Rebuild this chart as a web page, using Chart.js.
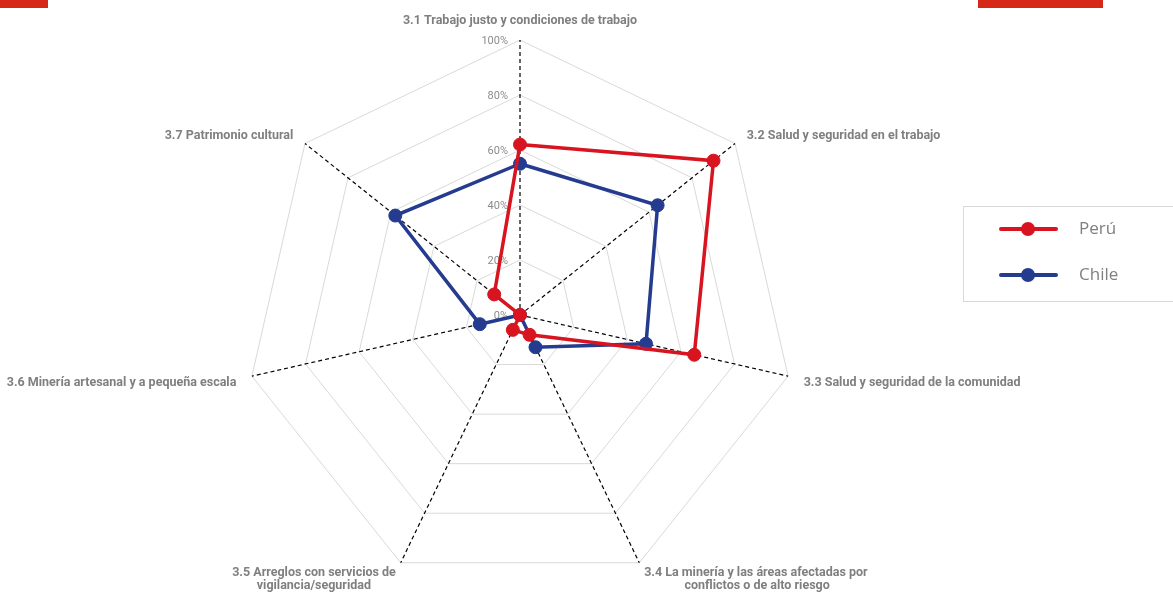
<!DOCTYPE html>
<html lang="es">
<head>
<meta charset="utf-8">
<title>Perú vs Chile</title>
<script src="https://cdn.jsdelivr.net/npm/chart.js@4/dist/chart.umd.min.js"></script>
<style>
  html, body { margin: 0; padding: 0; background: #fff; }
  #wrap { position: relative; width: 1173px; height: 592px; overflow: hidden; }
  #chart { position: absolute; left: 0; top: 0; }
  .bar { position: absolute; top: 0; height: 8px; background: #d62718; }
  #legend {
    position: absolute; left: 963px; top: 206px; width: 230px; height: 96px;
    border: 1px solid #d9d9d9; box-sizing: border-box;
    font-family: "Open Sans", sans-serif; font-size: 17px; color: #7f7f7f;
  }
  .item { position: absolute; left: 0; height: 24px; width: 100%; }
  .sw { position: absolute; left: 35px; top: 10px; width: 59px; height: 4px; border-radius: 2px; background: var(--c); }
  .sw::after {
    content: ''; position: absolute; left: 22px; top: -5px; width: 14px; height: 14px;
    border-radius: 50%; background: var(--c);
  }
  .txt { position: absolute; left: 115px; top: -1px; line-height: 24px; }
</style>
</head>
<body>
<div id="wrap">
  <div class="bar" style="left:0;width:48px"></div>
  <div class="bar" style="left:978px;width:125px"></div>
  <canvas id="chart" width="1173" height="592"></canvas>
  <div id="legend"></div>
</div>
<script>
// Categories and values
const CATEGORIES = [
  '3.1 Trabajo justo y condiciones de trabajo',
  '3.2 Salud y seguridad en el trabajo',
  '3.3 Salud y seguridad de la comunidad',
  ['3.4 La minería y las áreas afectadas por', 'conflictos o de alto riesgo'],
  ['3.5 Arreglos con servicios de', 'vigilancia/seguridad'],
  '3.6 Minería artesanal y a pequeña escala',
  '3.7 Patrimonio cultural'
];
const SERIES_NAMES = ['Perú', 'Chile'];
const PERU = [62, 90, 65, 8, 6, 0, 12];
const CHILE = [55, 64, 47, 13, 0, 15, 58];
const TICK_LABELS = ['0%', '20%', '40%', '60%', '80%', '100%'];

const COLORS = ['#d7141f', '#253b8f'];
const CENTER_X = 520, CENTER_Y = 315, RADIUS = 275;

// point label placement, per axis
const LABEL_FONT_SIZE = 12.5;
const LABEL_PADDING = [12, 3, 0, 4, 4, 0, 3];
const LABEL_LINE_HEIGHT = [1.2, 1, 1, 1.04, 1.04, 1, 1];
const LABEL_SHIFT = [0, 3, 5, 1, 1, 5, 3]; // in spaces, away from the axis

// radial scale with a fixed centre and radius (Excel-like layout)
class FixedRadialScale extends Chart.RadialLinearScale {
  setCenterPoint() {
    this.xCenter = CENTER_X;
    this.yCenter = CENTER_Y;
    this.drawingArea = RADIUS;
  }
}
FixedRadialScale.id = 'fixedRadial';
FixedRadialScale.defaults = Chart.RadialLinearScale.defaults;
Chart.register(FixedRadialScale);

// Excel centres the lines of a wrapped label; chart.js aligns them to one side,
// so pad the shorter lines with spaces
const measure = document.createElement('canvas').getContext('2d');
measure.font = 'bold ' + LABEL_FONT_SIZE + 'px Roboto';
const SPACE_W = measure.measureText(' ').width;

function fitLabel(label, i) {
  const lines = Array.isArray(label) ? label : [label];
  const align = i === 0 ? 'center' : (i < 4 ? 'left' : 'right');
  const widest = Math.max(...lines.map(l => measure.measureText(l).width));
  return lines.map(l => {
    if (align === 'center') return l;
    const n = Math.round((widest - measure.measureText(l).width) / 2 / SPACE_W);
    const pad = ' '.repeat(n + LABEL_SHIFT[i]);
    return align === 'left' ? pad + l : l + pad;
  });
}

// tick labels sit left of the first axis, 0% included
const tickLabelPlugin = {
  id: 'tickLabels',
  beforeDatasetsDraw(chart) {
    const scale = chart.scales.r;
    const ctx = chart.ctx;
    ctx.save();
    ctx.font = '11px Roboto';
    ctx.fillStyle = '#8c8c8c';
    ctx.textAlign = 'right';
    ctx.textBaseline = 'middle';
    scale.ticks.forEach((t, i) => {
      const d = scale.getDistanceFromCenterForValue(t.value);
      ctx.fillText(TICK_LABELS[i], scale.xCenter - 12, scale.yCenter - d + 1);
    });
    ctx.restore();
  }
};

const datasets = [PERU, CHILE].map((vals, i) => ({
  label: SERIES_NAMES[i],
  data: vals,
  borderColor: COLORS[i],
  backgroundColor: COLORS[i],
  pointBackgroundColor: COLORS[i],
  pointBorderColor: COLORS[i],
  borderWidth: 3.5,
  pointRadius: 6.5,
  pointBorderWidth: 1,
  fill: false,
  tension: 0
}));

new Chart(document.getElementById('chart'), {
  type: 'radar',
  data: { labels: CATEGORIES.map(fitLabel), datasets: datasets },
  options: {
    responsive: false,
    animation: false,
    plugins: {
      legend: { display: false },
      tooltip: { enabled: false }
    },
    scales: {
      r: {
        type: 'fixedRadial',
        min: 0,
        max: 100,
        ticks: { stepSize: 20, display: false },
        grid: { color: '#d9d9d9', lineWidth: 1 },
        angleLines: { color: '#000', lineWidth: 1.2, borderDash: [4, 3] },
        pointLabels: {
          color: '#7f7f7f',
          font: ctx => ({
            family: 'Roboto', size: LABEL_FONT_SIZE, weight: 'bold',
            lineHeight: LABEL_LINE_HEIGHT[ctx.index]
          }),
          padding: ctx => LABEL_PADDING[ctx.index]
        }
      }
    }
  },
  plugins: [tickLabelPlugin]
});

// html legend
const legend = document.getElementById('legend');
SERIES_NAMES.forEach((name, i) => {
  const item = document.createElement('div');
  item.className = 'item';
  item.style.top = (10 + i * 46) + 'px';
  item.innerHTML = '<span class="sw" style="--c:' + COLORS[i] + '"></span><span class="txt">' + name + '</span>';
  legend.appendChild(item);
});
</script>
</body>
</html>
